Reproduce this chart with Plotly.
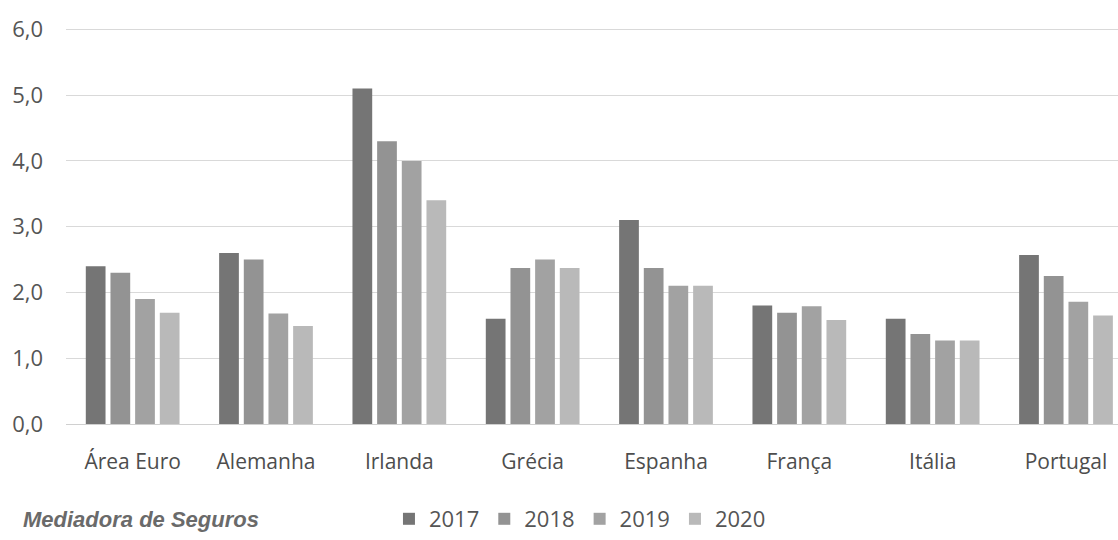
import plotly.graph_objects as go

# Categories and yearly values
countries = ["Área Euro", "Alemanha", "Irlanda", "Grécia", "Espanha", "França", "Itália", "Portugal"]
years = ["2017", "2018", "2019", "2020"]
v2017 = [2.4, 2.6, 5.1, 1.6, 3.1, 1.8, 1.6, 2.57]
v2018 = [2.3, 2.5, 4.3, 2.37, 2.37, 1.69, 1.37, 2.25]
v2019 = [1.9, 1.68, 4.0, 2.5, 2.1, 1.79, 1.27, 1.86]
v2020 = [1.69, 1.49, 3.4, 2.37, 2.1, 1.58, 1.27, 1.65]

series = [v2017, v2018, v2019, v2020]
colors = ["#757575", "#939393", "#a2a2a2", "#b9b9b9"]

fig = go.Figure()
for name, vals, col in zip(years, series, colors):
    fig.add_trace(go.Bar(
        x=countries, y=vals, name=name,
        marker=dict(color=col, line=dict(width=0)),
    ))

font_family = "Open Sans, Lato, sans-serif"

fig.update_layout(
    width=1118, height=540,
    margin=dict(l=66, r=0, t=28, b=116, autoexpand=False),
    plot_bgcolor="white", paper_bgcolor="white",
    barmode="group", bargap=0.26, bargroupgap=0.2,
    separators=",.",
    font=dict(family=font_family, color="#555555"),
    xaxis=dict(
        range=[-0.5, 7.39], automargin=False,
        showgrid=False, showline=False, zeroline=False,
        ticks="", tickfont=dict(size=21, color="#4d4d4d"),
        ticklabelstandoff=23,
    ),
    yaxis=dict(
        range=[0, 6.02], dtick=1, tickformat=".1f", automargin=False,
        showgrid=True, gridcolor="#d9d9d9", gridwidth=1.2,
        zeroline=True, zerolinecolor="#d0d0d0", zerolinewidth=1.2,
        showline=False, ticks="",
        tickfont=dict(size=22, color="#555555"),
        ticklabelstandoff=22,
    ),
    legend=dict(
        orientation="h", x=0.307, xanchor="left",
        yref="container", y=0.0, yanchor="bottom",
        font=dict(size=22, color="#555555"),
        itemwidth=30, traceorder="normal",
        bgcolor="rgba(0,0,0,0)",
    ),
    showlegend=True,
)

fig.add_annotation(
    text="<b><i>Mediadora de Seguros</i></b>",
    xref="paper", yref="paper",
    x=-0.043, xanchor="left", y=-0.242, yanchor="middle",
    showarrow=False,
    font=dict(family="Liberation Sans Narrow, Liberation Sans, sans-serif", size=22, color="#6a6a6a"),
)

fig.write_html("out.html")
